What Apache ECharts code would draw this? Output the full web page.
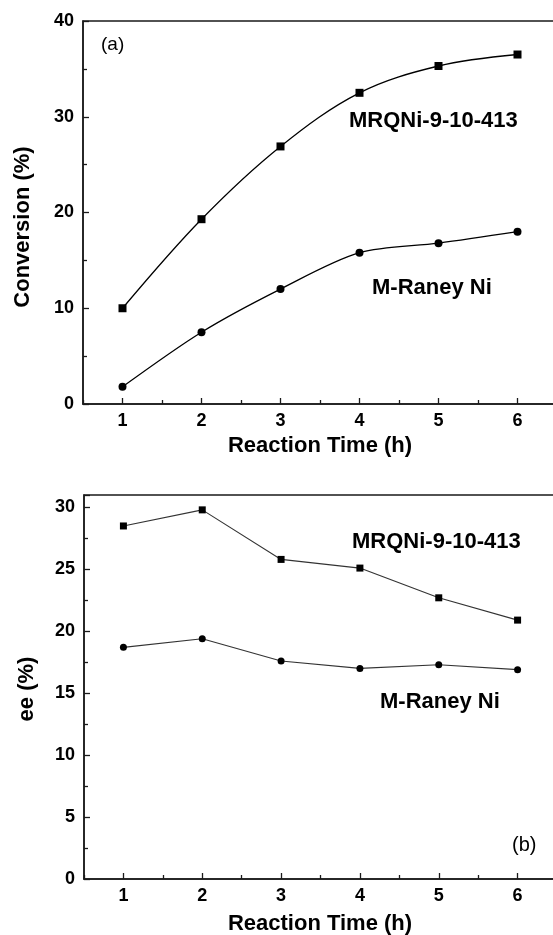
<!DOCTYPE html>
<html>
<head>
<meta charset="utf-8">
<script src="https://cdn.jsdelivr.net/npm/echarts@6/dist/echarts.min.js"></script>
<style>
html,body{margin:0;padding:0;background:#fff;}
#chart{width:553px;height:935px;}
</style>
</head>
<body>
<div id="chart"></div>
<script>
// ---- data ----
var hours = ['1', '2', '3', '4', '5', '6'];
var convMRQNi = [10.0, 19.3, 26.9, 32.5, 35.3, 36.5];
var convRaney = [1.8, 7.5, 12.0, 15.8, 16.8, 18.0];
var eeMRQNi = [28.5, 29.8, 25.8, 25.1, 22.7, 20.9];
var eeRaney = [18.7, 19.4, 17.6, 17.0, 17.3, 16.9];
var convTicks = [0, 10, 20, 30, 40];
var eeTicks = [0, 5, 10, 15, 20, 25, 30];
var seriesNames = ['MRQNi-9-10-413', 'M-Raney Ni'];

var FONT = '"Liberation Sans", Arial, sans-serif';
var AX = '#1a1a1a';

function xMain(gridIndex) {
  return {
    type: 'category', gridIndex: gridIndex, position: 'bottom', data: hours,
    boundaryGap: true,
    axisLine: {show: true, lineStyle: {color: AX, width: 1.5}},
    axisTick: {show: true, inside: true, length: 4, alignWithLabel: false, lineStyle: {color: AX, width: 1.3}},
    axisLabel: {show: true, margin: 8, color: '#000', fontFamily: FONT, fontWeight: 'bold', fontSize: 18},
    splitLine: {show: false}
  };
}
function xMajorTicks(gridIndex, h) {
  return {
    type: 'category', gridIndex: gridIndex, position: 'top', offset: -h, data: hours,
    boundaryGap: true,
    axisLine: {show: false},
    axisTick: {show: true, inside: false, length: 6, alignWithLabel: true, lineStyle: {color: AX, width: 1.3}},
    axisLabel: {show: false},
    splitLine: {show: false}
  };
}
function yAxis(gridIndex, ticks, max) {
  var step = ticks[1] - ticks[0];
  return {
    type: 'value', gridIndex: gridIndex, min: ticks[0], max: max, interval: step,
    axisLine: {show: true, lineStyle: {color: AX, width: 1.5}},
    axisTick: {show: true, inside: true, length: 6, lineStyle: {color: AX, width: 1.3}},
    minorTick: {show: true, splitNumber: 2, length: 4, lineStyle: {color: AX, width: 1.3}},
    axisLabel: {
      margin: 9, color: '#000', fontFamily: FONT, fontWeight: 'bold', fontSize: 18,
      formatter: function (v) { return ticks.indexOf(v) >= 0 ? String(v) : ''; }
    },
    splitLine: {show: false}
  };
}

var option = {
  backgroundColor: '#fff',
  animation: false,
  grid: [
    {left: 83, top: 21, width: 474, height: 383, show: true, borderColor: AX, borderWidth: 1.5,
     backgroundColor: 'transparent', containLabel: false, outerBoundsMode: 'none'},
    {left: 84, top: 495, width: 473, height: 384, show: true, borderColor: AX, borderWidth: 1.5,
     backgroundColor: 'transparent', containLabel: false, outerBoundsMode: 'none'}
  ],
  xAxis: [xMain(0), xMajorTicks(0, 383), xMain(1), xMajorTicks(1, 384)],
  yAxis: [yAxis(0, convTicks, 40), yAxis(1, eeTicks, 31)],
  series: [
    {name: seriesNames[0], type: 'line', xAxisIndex: 0, yAxisIndex: 0, data: convMRQNi,
     smooth: 0.35, symbol: 'rect', symbolSize: 8,
     lineStyle: {color: '#000', width: 1.3}, itemStyle: {color: '#000'}},
    {name: seriesNames[1], type: 'line', xAxisIndex: 0, yAxisIndex: 0, data: convRaney,
     smooth: 0.3, symbol: 'circle', symbolSize: 8,
     lineStyle: {color: '#000', width: 1.3}, itemStyle: {color: '#000'}},
    {name: seriesNames[0], type: 'line', xAxisIndex: 2, yAxisIndex: 1, data: eeMRQNi,
     symbol: 'rect', symbolSize: 7,
     lineStyle: {color: '#333', width: 1.1}, itemStyle: {color: '#000'}},
    {name: seriesNames[1], type: 'line', xAxisIndex: 2, yAxisIndex: 1, data: eeRaney,
     symbol: 'circle', symbolSize: 7,
     lineStyle: {color: '#333', width: 1.1}, itemStyle: {color: '#000'}}
  ],
  graphic: [
    {type: 'text', left: 101, top: 35, style: {text: '(a)', font: '19px ' + FONT, fill: '#000'}},
    {type: 'text', x: 349, y: 121, style: {text: seriesNames[0], font: 'bold 22px ' + FONT, fill: '#000', verticalAlign: 'middle'}},
    {type: 'text', x: 372, y: 288, style: {text: seriesNames[1], font: 'bold 22px ' + FONT, fill: '#000', verticalAlign: 'middle'}},
    {type: 'text', x: 320, y: 446, style: {text: 'Reaction Time (h)', font: 'bold 22px ' + FONT, fill: '#000', align: 'center', verticalAlign: 'middle'}},
    {type: 'text', x: 23, y: 227, rotation: Math.PI / 2, style: {text: 'Conversion (%)', font: 'bold 22px ' + FONT, fill: '#000', align: 'center', verticalAlign: 'middle'}},
    {type: 'text', x: 352, y: 542, style: {text: seriesNames[0], font: 'bold 22px ' + FONT, fill: '#000', verticalAlign: 'middle'}},
    {type: 'text', x: 380, y: 702, style: {text: seriesNames[1], font: 'bold 22px ' + FONT, fill: '#000', verticalAlign: 'middle'}},
    {type: 'text', x: 512, y: 845, style: {text: '(b)', font: '20px ' + FONT, fill: '#000', verticalAlign: 'middle'}},
    {type: 'text', x: 320, y: 924, style: {text: 'Reaction Time (h)', font: 'bold 22px ' + FONT, fill: '#000', align: 'center', verticalAlign: 'middle'}},
    {type: 'text', x: 27, y: 689, rotation: Math.PI / 2, style: {text: 'ee (%)', font: 'bold 22px ' + FONT, fill: '#000', align: 'center', verticalAlign: 'middle'}}
  ]
};
var chart = echarts.init(document.getElementById('chart'), null, {renderer: 'canvas'});
chart.setOption(option);
</script>
</body>
</html>
